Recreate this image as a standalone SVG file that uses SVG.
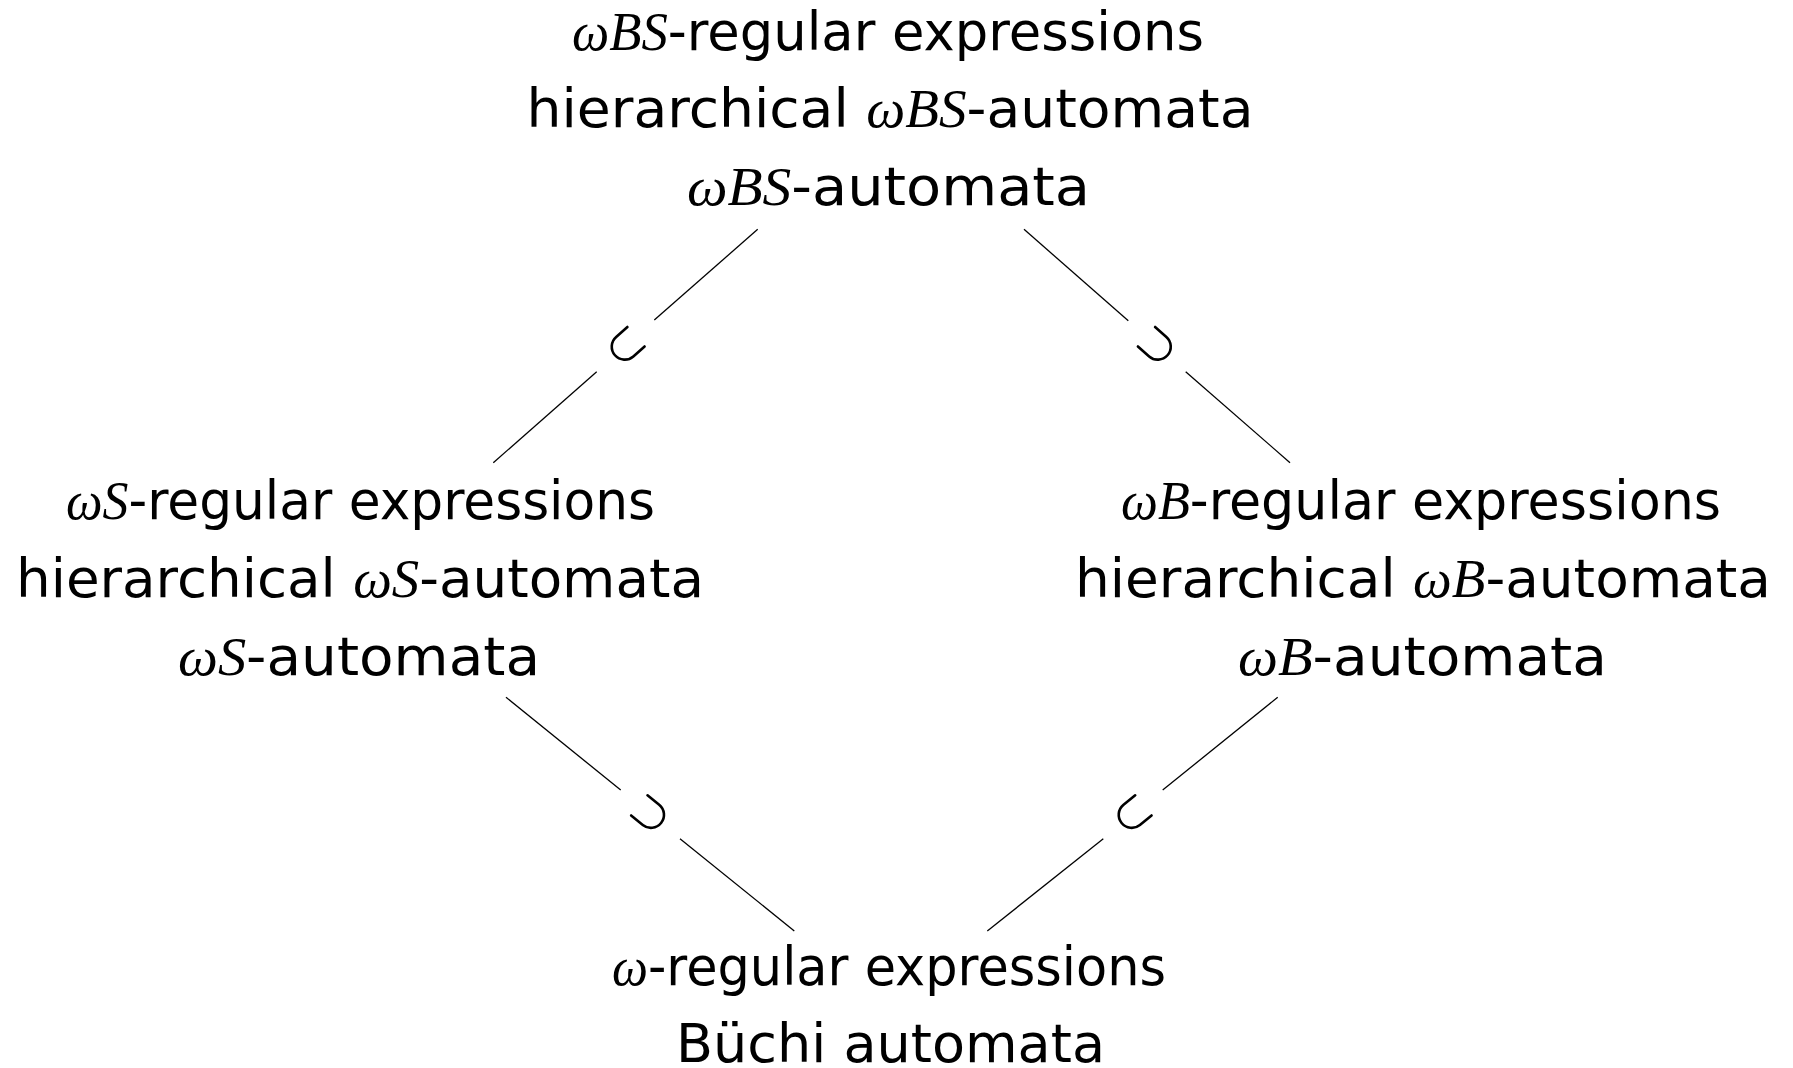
<svg xmlns="http://www.w3.org/2000/svg" xmlns:xlink="http://www.w3.org/1999/xlink" width="1793" height="1068" viewBox="0 0 1793 1068">
<style>
.t{font-family:"DejaVu Sans","Liberation Sans",sans-serif;font-size:54px;fill:#000;text-anchor:middle}
.m{font-family:"Liberation Serif","DejaVu Serif",serif;font-style:italic}
.c line{stroke:#000;stroke-width:1.3;fill:none}
.sub{stroke:#000;stroke-width:2.6;fill:none;stroke-linecap:round}
</style>
<defs>
<path id="u" class="sub" d="M-13,-14 V1 A13,13 0 0 0 13,1 V-14"/>
</defs>
<rect width="1793" height="1068" fill="#fff"/>
<g id="connectors" class="c">
<line x1="757.7" y1="229.3" x2="654.3" y2="320"/>
<line x1="596.7" y1="371.7" x2="493.3" y2="462.7"/>
<use xlink:href="#u" transform="translate(625.5,346) rotate(48.6)"/>
<line x1="1024" y1="229.3" x2="1128.3" y2="320.7"/>
<line x1="1185.7" y1="371.7" x2="1290" y2="462.7"/>
<use xlink:href="#u" transform="translate(1157,346) rotate(-48.6)"/>
<line x1="506" y1="697.3" x2="620.7" y2="790"/>
<line x1="680" y1="838.7" x2="794.3" y2="931"/>
<use xlink:href="#u" transform="translate(650.2,814.2) rotate(-51)"/>
<line x1="1277.7" y1="697.3" x2="1162.7" y2="790"/>
<line x1="1103.3" y1="838.7" x2="987.3" y2="931"/>
<use xlink:href="#u" transform="translate(1132.5,814.2) rotate(51)"/>
</g>
<g id="node-wBS">
<text class="t" x="888" y="50" textLength="632" lengthAdjust="spacingAndGlyphs"><tspan class="m">ωBS</tspan>-regular expressions</text>
<text class="t" x="890" y="127" textLength="727" lengthAdjust="spacingAndGlyphs">hierarchical <tspan class="m">ωBS</tspan>-automata</text>
<text class="t" x="888.5" y="205" textLength="403" lengthAdjust="spacingAndGlyphs"><tspan class="m">ωBS</tspan>-automata</text>
</g>
<g id="node-wS">
<text class="t" x="360.5" y="519" textLength="589" lengthAdjust="spacingAndGlyphs"><tspan class="m">ωS</tspan>-regular expressions</text>
<text class="t" x="360" y="597" textLength="688" lengthAdjust="spacingAndGlyphs">hierarchical <tspan class="m">ωS</tspan>-automata</text>
<text class="t" x="359" y="675" textLength="362" lengthAdjust="spacingAndGlyphs"><tspan class="m">ωS</tspan>-automata</text>
</g>
<g id="node-wB">
<text class="t" x="1421" y="519" textLength="600" lengthAdjust="spacingAndGlyphs"><tspan class="m">ωB</tspan>-regular expressions</text>
<text class="t" x="1423" y="597" textLength="696" lengthAdjust="spacingAndGlyphs">hierarchical <tspan class="m">ωB</tspan>-automata</text>
<text class="t" x="1422.5" y="675" textLength="369" lengthAdjust="spacingAndGlyphs"><tspan class="m">ωB</tspan>-automata</text>
</g>
<g id="node-w">
<text class="t" x="889" y="985" textLength="554" lengthAdjust="spacingAndGlyphs"><tspan class="m">ω</tspan>-regular expressions</text>
<text class="t" x="890.5" y="1062" textLength="429" lengthAdjust="spacingAndGlyphs">Büchi automata</text>
</g>
</svg>
